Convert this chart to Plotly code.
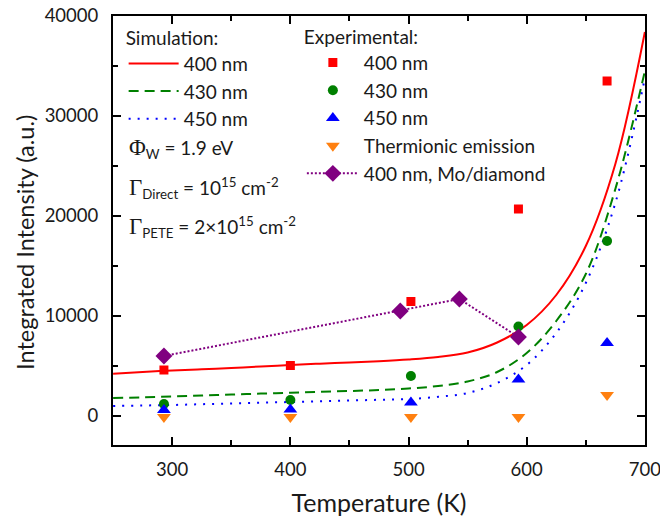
import plotly.graph_objects as go

# ---- data ----
T_sim = [250, 275, 300, 325, 350, 375, 400, 425, 450, 475, 500, 525, 550, 575, 600, 625, 650, 675, 700]
sim_400 = [4230, 4400, 4550, 4680, 4800, 4950, 5100, 5230, 5350, 5480, 5650, 5900, 6350, 7350, 9100, 12100, 17000, 25200, 38400]
sim_430 = [1800, 1870, 1950, 2050, 2150, 2240, 2330, 2420, 2500, 2600, 2750, 3000, 3450, 4400, 6300, 9500, 14200, 22700, 34500]
sim_450 = [1000, 1050, 1100, 1180, 1250, 1330, 1400, 1480, 1550, 1620, 1700, 1920, 2300, 3300, 5100, 8300, 13300, 21300, 33800]

T_exp = [293, 400, 502, 593, 668]
exp_400 = [4600, 5050, 11450, 20700, 33500]
exp_430 = [1200, 1600, 4000, 8950, 17500]
exp_450 = [600, 650, 1350, 3650, 7300]
thermionic = [-100, -100, -100, -100, 2100]

T_mo = [293, 493, 543, 593]
mo_400 = [6000, 10500, 11700, 7900]

FONT = "Lato"
TXT = "#1a1a1a"

fig = go.Figure()

# simulations
fig.add_trace(go.Scatter(x=T_sim, y=sim_400, mode="lines", name="400 nm",
                         line=dict(color="#ff0000", width=2, shape="spline", smoothing=1.0),
                         legend="legend", legendgroup="s1"))
fig.add_trace(go.Scatter(x=T_sim, y=sim_430, mode="lines", name="430 nm",
                         line=dict(color="#008000", width=2, dash="10px,6px", shape="spline", smoothing=1.0),
                         legend="legend", legendgroup="s2"))
fig.add_trace(go.Scatter(x=T_sim, y=sim_450, mode="lines", name="450 nm",
                         line=dict(color="#0000ff", width=2, dash="2px,7px", shape="spline", smoothing=1.0),
                         legend="legend", legendgroup="s3"))

# experiments
fig.add_trace(go.Scatter(x=T_exp, y=exp_400, mode="markers", name="400 nm",
                         marker=dict(symbol="square", size=9, color="#ff0000"),
                         legend="legend2", legendgroup="e1"))
fig.add_trace(go.Scatter(x=T_exp, y=exp_430, mode="markers", name="430 nm",
                         marker=dict(symbol="circle", size=10, color="#008000"),
                         legend="legend2", legendgroup="e2"))
fig.add_trace(go.Scatter(x=T_exp, y=exp_450, mode="markers", name="450 nm",
                         marker=dict(symbol="triangle-up", size=12, color="#0000ff"),
                         legend="legend2", legendgroup="e3"))
fig.add_trace(go.Scatter(x=T_exp, y=thermionic, mode="markers", name="Thermionic emission",
                         marker=dict(symbol="triangle-down", size=12, color="#ff8010"),
                         legend="legend2", legendgroup="e4"))
fig.add_trace(go.Scatter(x=T_mo, y=mo_400, mode="lines+markers", name="400 nm, Mo/diamond",
                         line=dict(color="#800080", width=2, dash="2px,2px"),
                         marker=dict(symbol="diamond", size=13, color="#800080"),
                         legend="legend2", legendgroup="e5"))

axis_common = dict(showline=True, linecolor="black", linewidth=2, mirror="allticks",
                   ticks="inside", ticklen=8, tickwidth=1.5, tickcolor="black",
                   showgrid=False, zeroline=False, automargin=False,
                   ticklabeloverflow="allow",
                   tickfont=dict(family=FONT, size=18.5, color=TXT))

fig.update_xaxes(range=[249.9, 700.1], dtick=100, tick0=300,
                 minor=dict(ticks="inside", ticklen=5, dtick=50, tick0=250, tickcolor="black", tickwidth=1.5),
                 title=dict(text="Temperature (K)", font=dict(family=FONT, size=25, color=TXT), standoff=18),
                 ticklabelstandoff=7, **axis_common)
fig.update_yaxes(range=[-2900, 40000], dtick=10000, tick0=0, tickformat="d",
                 minor=dict(ticks="inside", ticklen=5, dtick=5000, tick0=0, tickcolor="black", tickwidth=1.5),
                 ticklabelstandoff=9, **axis_common)

leg_font = dict(family=FONT, size=19, color=TXT)
fig.update_layout(
    width=660, height=517,
    margin=dict(l=113, r=15, t=16, b=72),
    plot_bgcolor="white", paper_bgcolor="white",
    legend=dict(x=0.02, y=0.991, xanchor="left", yanchor="top", bgcolor="rgba(0,0,0,0)",
                title=dict(text="Simulation:", font=leg_font), font=leg_font,
                itemwidth=50, tracegroupgap=0, traceorder="grouped"),
    legend2=dict(x=0.355, y=0.993, xanchor="left", yanchor="top", bgcolor="rgba(0,0,0,0)",
                 title=dict(text="Experimental:", font=leg_font), font=leg_font,
                 itemwidth=52, tracegroupgap=0, traceorder="grouped"),
)

# y-axis title as rotated text (slightly below plot centre as in the reference)
fig.add_annotation(xref="paper", yref="paper", x=-0.1654, y=0.471, xanchor="center", yanchor="middle",
                   showarrow=False, textangle=-90,
                   font=dict(family=FONT, size=23.5, color=TXT),
                   text="Integrated Intensity (a.u.)")

SERIF = "<span style='font-family:Liberation Serif;font-size:23px'>"
ann_font = dict(family=FONT, size=19, color=TXT)
fig.add_annotation(xref="paper", yref="paper", x=0.026, y=0.692, xanchor="left", yanchor="middle",
                   showarrow=False, font=ann_font,
                   text=SERIF + "Φ</span><sub>W</sub> = 1.9 eV")
fig.add_annotation(xref="paper", yref="paper", x=0.026, y=0.598, xanchor="left", yanchor="middle",
                   showarrow=False, font=ann_font,
                   text=SERIF + "Γ</span><sub>Direct</sub> = 10<sup>15</sup> cm<sup>-2</sup>")
fig.add_annotation(xref="paper", yref="paper", x=0.026, y=0.507, xanchor="left", yanchor="middle",
                   showarrow=False, font=ann_font,
                   text=SERIF + "Γ</span><sub>PETE</sub> = 2×10<sup>15</sup> cm<sup>-2</sup>")

fig.write_html("out.html")
